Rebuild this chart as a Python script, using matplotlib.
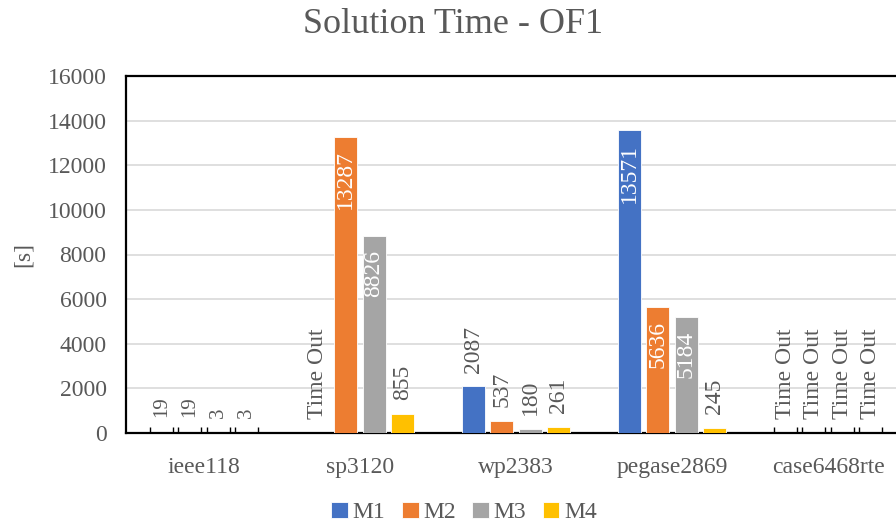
import matplotlib
matplotlib.use('Agg')
import matplotlib.pyplot as plt
import numpy as np

# Solution time per test case and method (None = time out)
cases = ['ieee118', 'sp3120', 'wp2383', 'pegase2869', 'case6468rte']
methods = ['M1', 'M2', 'M3', 'M4']
m1_times = [19, None, 2087, 13571, None]
m2_times = [19, 13287, 537, 5636, None]
m3_times = [3, 8826, 180, 5184, None]
m4_times = [3, 855, 261, 245, None]
colors = ['#4472C4', '#ED7D31', '#A5A5A5', '#FFC000']

series = [m1_times, m2_times, m3_times, m4_times]

plt.rcParams['font.family'] = ['Liberation Serif', 'DejaVu Serif']
text_gray = '#595959'
fs = 17

fig = plt.figure(figsize=(8.96, 5.22), dpi=100)
ax = fig.add_axes([126 / 896, 1 - 433 / 522, 780 / 896, 357 / 522])

x = np.arange(len(cases))
step = 0.181
width = 0.147
offsets = (np.arange(len(methods)) - 1.5) * step

for k, (name, vals, col) in enumerate(zip(methods, series, colors)):
    heights = [v if v is not None else 0 for v in vals]
    pos = x + offsets[k]
    ax.bar(pos, heights, width=width, color=col, edgecolor='white',
           linewidth=0.6, label=name, zorder=3)
    for i, v in enumerate(vals):
        small = cases[i] == 'ieee118'
        if v is None:
            ax.annotate('Time Out', (pos[i], 0), xytext=(0, 10),
                        textcoords='offset points', rotation=90,
                        ha='center', va='bottom', fontsize=fs,
                        color=text_gray, zorder=4)
        elif v > 4000:
            ax.annotate(str(v), (pos[i], v), xytext=(0, -10),
                        textcoords='offset points', rotation=90,
                        ha='center', va='top', fontsize=fs,
                        color='white', zorder=4)
        else:
            ax.annotate(str(v), (pos[i], v), xytext=(0, 10 if not small else 11),
                        textcoords='offset points', rotation=90,
                        ha='center', va='bottom',
                        fontsize=15 if small else fs,
                        color=text_gray, zorder=4)
        # short edge marks for near-zero and timed-out bars
        if small or (v is None and cases[i] == 'case6468rte'):
            ax.vlines([pos[i] - width / 2, pos[i] + width / 2], 0, 260,
                      color='black', linewidth=1, zorder=4)

ax.set_xlim(-0.5, len(cases) - 0.5)
ax.set_ylim(0, 16000)
ax.set_yticks(np.arange(0, 16001, 2000))
ax.set_xticks(x)
ax.set_xticklabels(cases)
ax.tick_params(axis='both', length=0, labelsize=fs, colors=text_gray)
ax.tick_params(axis='x', pad=17)
ax.tick_params(axis='y', pad=14)
ax.grid(axis='y', color='#D9D9D9', linewidth=1.2, zorder=0)
ax.set_axisbelow(True)
for side in ['left', 'top', 'bottom', 'right']:
    ax.spines[side].set_color('black')
    ax.spines[side].set_linewidth(1.6)

ax.set_ylabel('[s]', fontsize=fs, color=text_gray, labelpad=10)
fig.text(0.506, 0.953, 'Solution Time - OF1', ha='center', va='center',
         fontsize=26, color=text_gray)

fig.legend(loc='center', bbox_to_anchor=(0.518, 0.018), ncol=4, frameon=False,
           fontsize=fs, handlelength=0.7, handleheight=0.7, handletextpad=0.2,
           columnspacing=0.7, labelcolor=text_gray)

plt.savefig('out.png', dpi=100)
plt.close()
